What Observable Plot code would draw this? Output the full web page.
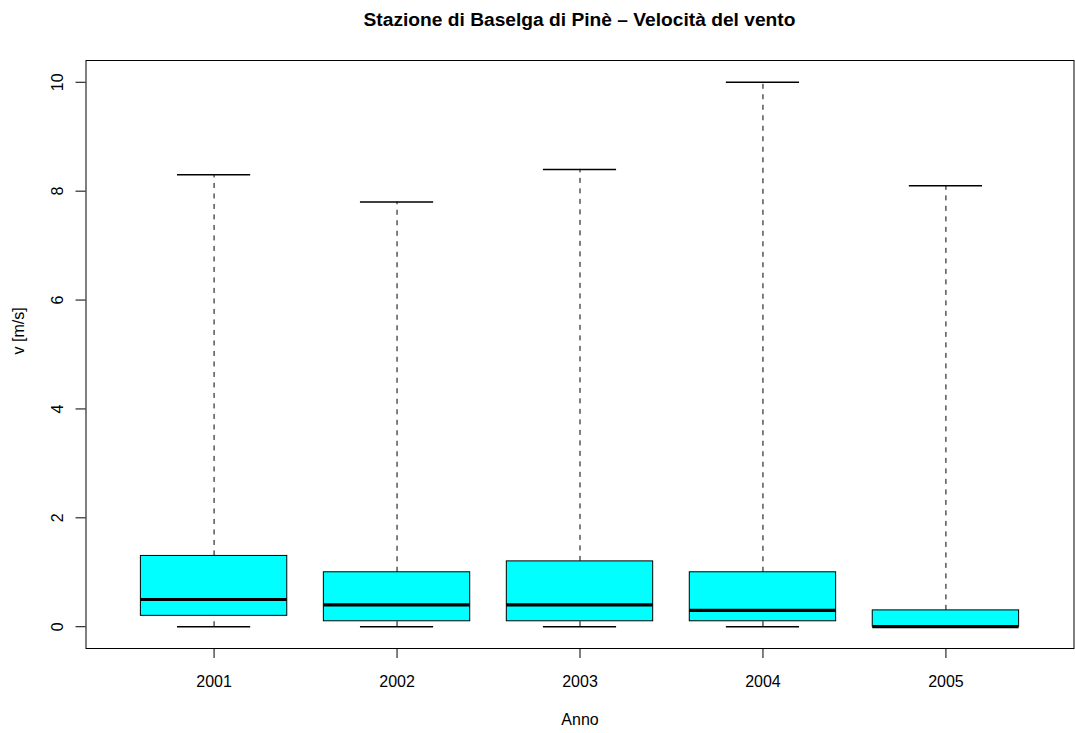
<!DOCTYPE html>
<html>
<head>
<meta charset="utf-8">
<script src="https://cdn.jsdelivr.net/npm/d3@7"></script>
<script src="https://cdn.jsdelivr.net/npm/@observablehq/plot@0.6"></script>
<style>
  body { margin: 0; background: #fff; }
  #title {
    box-sizing: border-box; height: 40px; width: 1075px;
    padding-left: 86px; padding-right: 2px; padding-top: 9.75px;
    text-align: center; font: bold 19.2px "Liberation Sans", Arial, sans-serif;
    line-height: 19.2px; color: #000;
  }
</style>
</head>
<body>
<div id="title"></div>
<div id="chart"></div>
<script>
const title = "Stazione di Baselga di Pinè – Velocità del vento";
const xLabel = "Anno";
const yLabel = "v [m/s]";
const years = ["2001", "2002", "2003", "2004", "2005"];
const whiskerLow = [0, 0, 0, 0, 0];
const q1 = [0.2, 0.1, 0.1, 0.1, 0];
const median = [0.5, 0.4, 0.4, 0.3, 0];
const q3 = [1.3, 1.0, 1.2, 1.0, 0.3];
const whiskerHigh = [8.3, 7.8, 8.4, 10.0, 8.1];
const yTicks = [0, 2, 4, 6, 8, 10];

document.getElementById("title").textContent = title;

const boxWidth = 0.8;
const stapleWidth = 0.4;
const data = years.map((year, i) => ({
  year, pos: i + 1,
  low: whiskerLow[i], q1: q1[i], med: median[i], q3: q3[i], high: whiskerHigh[i]
}));

const chart = Plot.plot({
  width: 1075,
  height: 693,
  marginLeft: 85.5,
  marginRight: 1.5,
  marginTop: 20,
  marginBottom: 85,
  style: { fontFamily: "'Liberation Sans', Arial, sans-serif", fontSize: "16px", color: "#000", background: "#fff" },
  x: { type: "linear", domain: [0.3, years.length + 0.7] },
  y: { type: "linear", domain: [-0.4, 10.4] },
  marks: [
    // whiskers
    Plot.ruleX(data, { x: "pos", y1: "q3", y2: "high", stroke: "#000", strokeWidth: 1, strokeDasharray: "5,5.5" }),
    Plot.ruleX(data, { x: "pos", y1: "low", y2: "q1", stroke: "#000", strokeWidth: 1, strokeDasharray: "5,5.5" }),
    // staples
    Plot.ruleY(data, { y: "high", x1: d => d.pos - stapleWidth / 2, x2: d => d.pos + stapleWidth / 2, stroke: "#000", strokeWidth: 1.5 }),
    Plot.ruleY(data, { y: "low", x1: d => d.pos - stapleWidth / 2, x2: d => d.pos + stapleWidth / 2, stroke: "#000", strokeWidth: 1.5 }),
    // boxes
    Plot.rect(data, { x1: d => d.pos - boxWidth / 2, x2: d => d.pos + boxWidth / 2, y1: "q1", y2: "q3", fill: "#00FFFF", stroke: "#000", strokeWidth: 1 }),
    // medians
    Plot.ruleY(data, { y: "med", x1: d => d.pos - boxWidth / 2, x2: d => d.pos + boxWidth / 2, stroke: "#000", strokeWidth: 3.2 }),
    Plot.frame({ stroke: "#000", strokeWidth: 1 }),
    Plot.axisX({ ticks: data.map(d => d.pos), tickFormat: p => years[p - 1], tickSize: 10, tickPadding: 17, label: null, stroke: "#000" }),
    Plot.axisY({ ticks: yTicks, tickFormat: d => String(d), tickSize: 10, tickPadding: 13.5, tickRotate: -90, label: null, stroke: "#000" }),
    Plot.text([xLabel], { text: d => d, frameAnchor: "bottom", dy: 65.5, lineAnchor: "top", fill: "#000" }),
    Plot.text([yLabel], { text: d => d, frameAnchor: "left", dx: -62.5, rotate: -90, lineAnchor: "bottom", fill: "#000" })
  ]
});
document.getElementById("chart").appendChild(chart);
</script>
</body>
</html>
